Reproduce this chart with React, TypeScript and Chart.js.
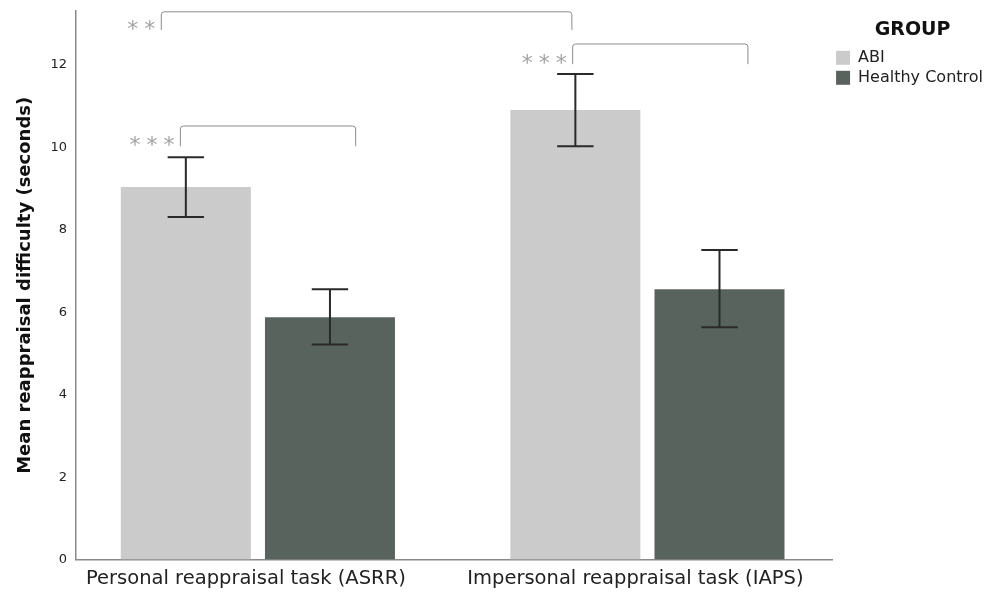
import React, { useEffect, useRef } from 'react';
import { Chart, registerables } from 'chart.js';

Chart.register(...registerables);

const FONT = "'DejaVu Sans', Verdana, sans-serif";

const CATEGORIES = ['Personal reappraisal task (ASRR)', 'Impersonal reappraisal task (IAPS)'];
const CATEGORY_POS = [0, 1];
const GROUPS = ['ABI', 'Healthy Control'];
const ABI_MEANS = [9.04, 10.91];
const HC_MEANS = [5.88, 6.56];
const ABI_LOW = [8.31, 10.03];
const ABI_HIGH = [9.76, 11.78];
const HC_LOW = [5.22, 5.64];
const HC_HIGH = [6.56, 7.51];
const Y_TICKS = [0, 2, 4, 6, 8, 10, 12];
const BAR_COLORS = ['#cbcbcb', '#59635d'];

// significance brackets (x in category units, y in axis units)
const SIG_X1 = [-0.248, -0.199, 0.808];
const SIG_X2 = [0.806, 0.251, 1.258];
const SIG_TOP = [13.29, 10.52, 12.51];
const SIG_BOTTOM = [12.85, 10.03, 12.02];
const SIG_LABELS = ['**', '***', '***'];

const X_MIN = -0.4666;
const X_MAX = 1.474;
const Y_MAX = 13.31;

const errorBarPlugin = {
  id: 'errorBars',
  afterDatasetsDraw(chart: any) {
    const ctx = chart.ctx;
    const y = chart.scales.y;
    const ranges = [
      [ABI_LOW, ABI_HIGH],
      [HC_LOW, HC_HIGH],
    ];
    ranges.forEach(([lo, hi], di) => {
      const meta = chart.getDatasetMeta(di);
      meta.data.forEach((bar: any, i: number) => {
        const x = bar.x;
        const cap = bar.width * 0.14;
        const yl = y.getPixelForValue(lo[i]);
        const yh = y.getPixelForValue(hi[i]);
        ctx.save();
        ctx.strokeStyle = '#2a2a2a';
        ctx.lineWidth = 2;
        ctx.beginPath();
        ctx.moveTo(x, yl);
        ctx.lineTo(x, yh);
        ctx.moveTo(x - cap, yh);
        ctx.lineTo(x + cap, yh);
        ctx.moveTo(x - cap, yl);
        ctx.lineTo(x + cap, yl);
        ctx.stroke();
        ctx.restore();
      });
    });
  },
};

const bracketPlugin = {
  id: 'sigBrackets',
  afterDraw(chart: any) {
    const ctx = chart.ctx;
    const xs = chart.scales.x;
    const ys = chart.scales.y;
    SIG_LABELS.forEach((label, i) => {
      const x1 = xs.getPixelForValue(SIG_X1[i]);
      const x2 = xs.getPixelForValue(SIG_X2[i]);
      const yt = ys.getPixelForValue(SIG_TOP[i]);
      const yb = ys.getPixelForValue(SIG_BOTTOM[i]);
      const r = 3;
      ctx.save();
      ctx.strokeStyle = '#8c8c8c';
      ctx.lineWidth = 1;
      ctx.beginPath();
      ctx.moveTo(x1, yb);
      ctx.lineTo(x1, yt + r);
      ctx.quadraticCurveTo(x1, yt, x1 + r, yt);
      ctx.lineTo(x2 - r, yt);
      ctx.quadraticCurveTo(x2, yt, x2, yt + r);
      ctx.lineTo(x2, yb);
      ctx.stroke();
      ctx.fillStyle = '#a3a3a3';
      ctx.font = `22px ${FONT}`;
      (ctx as any).letterSpacing = '6px';
      ctx.textAlign = 'right';
      ctx.textBaseline = 'alphabetic';
      ctx.fillText(label, x1, yb + 6);
      ctx.restore();
    });
  },
};

export default function App() {
  const ref = useRef<HTMLCanvasElement>(null);
  useEffect(() => {
    if (!ref.current) return;
    const means = [ABI_MEANS, HC_MEANS];
    const chart = new Chart(ref.current, {
      type: 'bar',
      data: {
        datasets: GROUPS.map((g, di) => ({
          label: g,
          data: CATEGORY_POS.map((x, i) => ({ x, y: means[di][i] })),
          backgroundColor: BAR_COLORS[di],
          borderWidth: 0,
          categoryPercentage: 0.74,
          barPercentage: 0.902,
        })),
      },
      options: {
        animation: false,
        responsive: true,
        maintainAspectRatio: false,
        layout: { padding: { top: 11, left: 15, right: -3, bottom: -7 } },
        plugins: {
          tooltip: { enabled: false },
          legend: {
            position: 'right',
            align: 'start',
            title: {
              display: true,
              text: 'GROUP',
              color: '#111',
              font: { family: FONT, size: 19, weight: 'bold' },
              padding: { top: 10, bottom: 2 },
            },
            labels: {
              boxWidth: 14,
              boxHeight: 14,
              padding: 4,
              color: '#222',
              font: { family: FONT, size: 16 },
            },
          },
        },
        scales: {
          x: {
            type: 'linear',
            offset: false,
            min: X_MIN,
            max: X_MAX,
            grid: { display: false, drawTicks: false },
            border: { display: true, color: '#8a8a8a', width: 1.5 },
            afterBuildTicks: (scale: any) => {
              scale.ticks = CATEGORY_POS.map((v) => ({ value: v }));
            },
            ticks: {
              autoSkip: false,
              maxRotation: 0,
              padding: 8,
              labelOffset: -12,
              color: '#222',
              font: { family: FONT, size: 19.5 },
              callback: (v: any) => CATEGORIES[CATEGORY_POS.indexOf(Number(v))] ?? '',
            },
          },
          y: {
            min: 0,
            max: Y_MAX,
            grid: { display: false, drawTicks: false },
            border: { display: true, color: '#8a8a8a', width: 1.5 },
            afterBuildTicks: (scale: any) => {
              scale.ticks = Y_TICKS.map((v) => ({ value: v }));
            },
            afterFit: (scale: any) => {
              scale.paddingTop = 0;
              scale.paddingBottom = 0;
            },
            ticks: {
              padding: 9,
              color: '#222',
              font: { family: FONT, size: 13 },
            },
            title: {
              display: true,
              text: 'Mean reappraisal difficulty (seconds)',
              color: '#111',
              font: { family: FONT, size: 18, weight: 'bold' },
              padding: { top: 0, bottom: 5 },
            },
          },
        },
      },
      plugins: [errorBarPlugin, bracketPlugin],
    } as any);
    return () => chart.destroy();
  }, []);
  return (
    <div style={{ position: 'absolute', left: 0, top: 0, width: 990, height: 592, background: '#fff' }}>
      <canvas ref={ref} />
    </div>
  );
}
